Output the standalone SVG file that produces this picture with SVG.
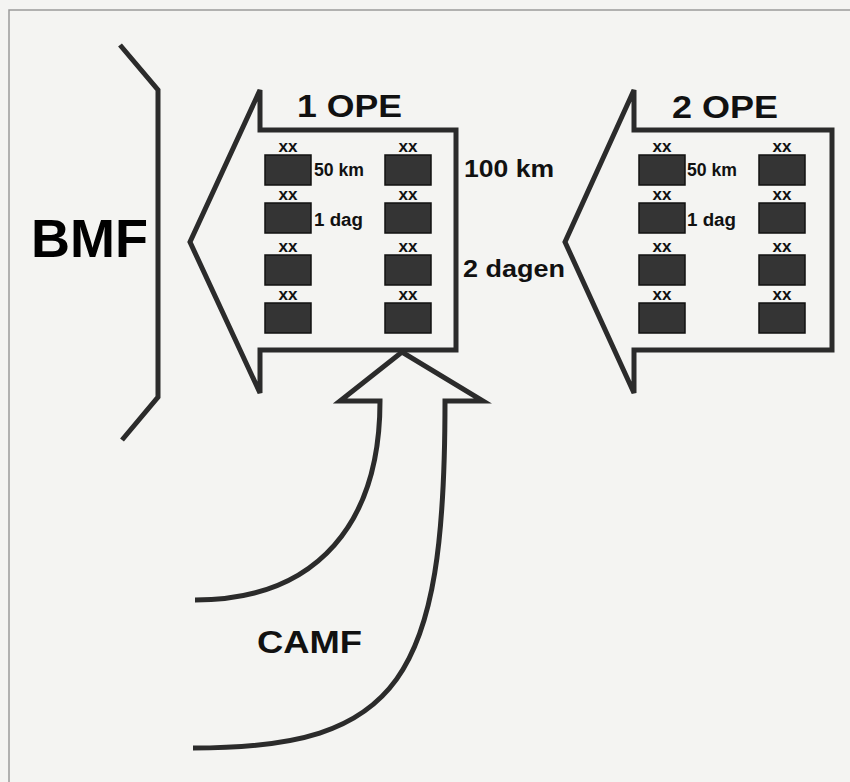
<svg xmlns="http://www.w3.org/2000/svg" width="850" height="782" viewBox="0 0 850 782">
  <style>
    .ln { fill: none; stroke: #2b2b2b; stroke-width: 5; stroke-linejoin: miter; }
    .box { fill: #343434; stroke: #111; stroke-width: 1.5; }
    .xx { font-family: "Liberation Sans", Arial, sans-serif; font-weight: bold; font-size: 17px; fill: #111; text-anchor: middle; }
    .sm { font-family: "Liberation Sans", Arial, sans-serif; font-weight: bold; font-size: 17.5px; fill: #111; }
    .md { font-family: "Liberation Sans", Arial, sans-serif; font-weight: bold; font-size: 23px; fill: #111; }
    .lg { font-family: "Liberation Sans", Arial, sans-serif; font-weight: bold; font-size: 31px; fill: #111; }
    .xl { font-family: "Liberation Sans", Arial, sans-serif; font-weight: bold; font-size: 54px; fill: #000; }
  </style>
  <defs>
    <g id="unit">
      <text class="xx" x="23" y="-3" textLength="19" lengthAdjust="spacingAndGlyphs">xx</text>
      <rect class="box" x="0" y="0" width="46" height="30"/>
    </g>
  </defs>
  <rect x="0" y="0" width="850" height="782" fill="#f4f4f2"/>
  <path d="M 9 782 V 10 H 850" fill="none" stroke="#9a9a9a" stroke-width="1.5"/>

  <g id="bmf">
    <polyline class="ln" points="120,45 158,90 158,397 122,440"/>
    <text class="xl" x="31" y="257">BMF</text>
  </g>

  <g id="ope1">
    <polygon class="ln" points="260,90 260,130 456,130 456,350 260,350 260,393 190,242"/>
    <text class="lg" x="297" y="117" textLength="105" lengthAdjust="spacingAndGlyphs">1 OPE</text>
    <use href="#unit" x="265" y="155"/>
    <use href="#unit" x="265" y="203"/>
    <use href="#unit" x="265" y="255"/>
    <use href="#unit" x="265" y="303"/>
    <use href="#unit" x="385" y="155"/>
    <use href="#unit" x="385" y="203"/>
    <use href="#unit" x="385" y="255"/>
    <use href="#unit" x="385" y="303"/>
    <text class="sm" x="314" y="176" textLength="50" lengthAdjust="spacingAndGlyphs">50 km</text>
    <text class="sm" x="314" y="226" textLength="49" lengthAdjust="spacingAndGlyphs">1 dag</text>
  </g>

  <g id="labels-mid">
    <text class="md" x="464" y="177" textLength="90" lengthAdjust="spacingAndGlyphs">100 km</text>
    <text class="md" x="463" y="277" font-size="25" textLength="102" lengthAdjust="spacingAndGlyphs">2 dagen</text>
  </g>

  <g id="ope2">
    <polygon class="ln" points="634,90 634,130 832,130 832,350 634,350 634,393 565,242"/>
    <text class="lg" x="672" y="118" textLength="106" lengthAdjust="spacingAndGlyphs">2 OPE</text>
    <use href="#unit" x="639" y="155"/>
    <use href="#unit" x="639" y="203"/>
    <use href="#unit" x="639" y="255"/>
    <use href="#unit" x="639" y="303"/>
    <use href="#unit" x="759" y="155"/>
    <use href="#unit" x="759" y="203"/>
    <use href="#unit" x="759" y="255"/>
    <use href="#unit" x="759" y="303"/>
    <text class="sm" x="687" y="176" textLength="50" lengthAdjust="spacingAndGlyphs">50 km</text>
    <text class="sm" x="687" y="226" textLength="49" lengthAdjust="spacingAndGlyphs">1 dag</text>
  </g>

  <g id="connectors">
    <g id="camf">
      <path class="ln" d="M 195 600 C 320 600, 380 520, 380 401 L 340 401 L 402 352 L 483 401 L 445 401 C 445 680, 400 748, 193 748"/>
      <text class="lg" x="257" y="653" textLength="105" lengthAdjust="spacingAndGlyphs">CAMF</text>
    </g>
  </g>
</svg>
